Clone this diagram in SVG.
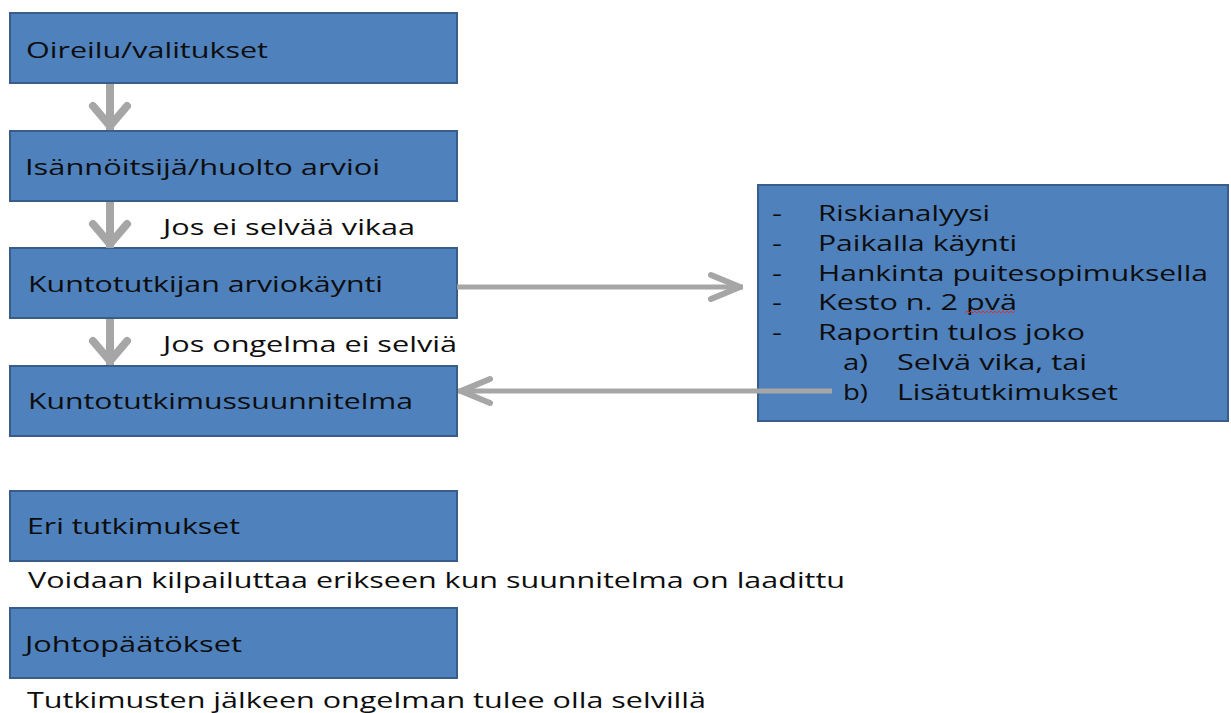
<svg xmlns="http://www.w3.org/2000/svg" width="1231" height="713" viewBox="0 0 1231 713">
<style>
.box{fill:#4f81bd;stroke:#385d8a;stroke-width:2}
.t{font-family:"Open Sans","Liberation Sans",sans-serif;font-size:21px;fill:#0d0d0d}
.c{stroke:#a6a6a6;fill:none}
.v{stroke-width:8}
.h{stroke-width:5}
</style>
<defs>
<marker id="vh" markerUnits="userSpaceOnUse" viewBox="-30 -24 36 48" markerWidth="36" markerHeight="48" refX="0" refY="0" orient="auto" overflow="visible">
<path d="M -24 -17 L -4 0 L -24 17" fill="none" stroke="#a6a6a6" stroke-width="8" stroke-linejoin="round" stroke-linecap="round"/>
</marker>
<marker id="hh" markerUnits="userSpaceOnUse" viewBox="-40 -16 44 32" markerWidth="44" markerHeight="32" refX="0" refY="0" orient="auto" overflow="visible">
<path d="M -32 -12 L -3 0 L -32 12" fill="none" stroke="#a6a6a6" stroke-width="6" stroke-linejoin="round" stroke-linecap="round"/>
</marker>
</defs>
<rect width="1231" height="713" fill="#ffffff"/>

<g id="n1"><rect class="box" x="10" y="13" width="447" height="70"/><text class="t" x="26" y="58" textLength="242" lengthAdjust="spacingAndGlyphs">Oireilu/valitukset</text></g>
<g id="n2"><rect class="box" x="10" y="131" width="447" height="70"/><text class="t" x="25" y="175" textLength="355" lengthAdjust="spacingAndGlyphs">Isännöitsijä/huolto arvioi</text></g>
<g id="n3"><rect class="box" x="10" y="248" width="447" height="70"/><text class="t" x="28" y="292" textLength="355" lengthAdjust="spacingAndGlyphs">Kuntotutkijan arviokäynti</text></g>
<g id="n4"><rect class="box" x="10" y="366" width="447" height="70"/><text class="t" x="28" y="409" textLength="385" lengthAdjust="spacingAndGlyphs">Kuntotutkimussuunnitelma</text></g>
<g id="n5"><rect class="box" x="10" y="491" width="447" height="70"/><text class="t" x="27" y="534" textLength="213" lengthAdjust="spacingAndGlyphs">Eri tutkimukset</text></g>
<g id="n6"><rect class="box" x="10" y="608" width="447" height="70"/><text class="t" x="25" y="652" textLength="217" lengthAdjust="spacingAndGlyphs">Johtopäätökset</text></g>

<g id="n7"><rect class="box" x="758" y="185" width="470" height="236"/>
<g class="t">
<text x="772" y="221" textLength="10" lengthAdjust="spacingAndGlyphs">-</text><text x="818" y="221" textLength="172" lengthAdjust="spacingAndGlyphs">Riskianalyysi</text>
<text x="772" y="251" textLength="10" lengthAdjust="spacingAndGlyphs">-</text><text x="818" y="251" textLength="199" lengthAdjust="spacingAndGlyphs">Paikalla  käynti</text>
<text x="772" y="281" textLength="10" lengthAdjust="spacingAndGlyphs">-</text><text x="818" y="281" textLength="390" lengthAdjust="spacingAndGlyphs">Hankinta puitesopimuksella</text>
<text x="772" y="310" textLength="10" lengthAdjust="spacingAndGlyphs">-</text><text x="818" y="310" textLength="199" lengthAdjust="spacingAndGlyphs">Kesto n. 2 pvä</text>
<text x="772" y="340" textLength="10" lengthAdjust="spacingAndGlyphs">-</text><text x="818" y="340" textLength="267" lengthAdjust="spacingAndGlyphs">Raportin tulos joko</text>
<text x="843" y="370" textLength="25" lengthAdjust="spacingAndGlyphs">a)</text><text x="897" y="370" textLength="190" lengthAdjust="spacingAndGlyphs">Selvä vika, tai</text>
<text x="843" y="400" textLength="25" lengthAdjust="spacingAndGlyphs">b)</text><text x="897" y="400" textLength="221" lengthAdjust="spacingAndGlyphs">Lisätutkimukset</text>
</g>
<path d="M965 313 l2 -2 l2 2 l2 -2 l2 2 l2 -2 l2 2 l2 -2 l2 2 l2 -2 l2 2 l2 -2 l2 2 l2 -2 l2 2 l2 -2 l2 2 l2 -2 l2 2 l2 -2 l2 2 l2 -2 l2 2 l2 -2 l2 2 l2 -2" fill="none" stroke="#e03030" stroke-width="1"/>
</g>

<g id="connectors">
<line class="c v" x1="110" y1="84" x2="110" y2="130" marker-end="url(#vh)"/>
<line class="c v" x1="110" y1="202" x2="110" y2="248" marker-end="url(#vh)"/>
<line class="c v" x1="110" y1="319" x2="110" y2="365" marker-end="url(#vh)"/>
<line class="c h" x1="457" y1="287" x2="743" y2="287" marker-end="url(#hh)"/>
<line class="c h" x1="832" y1="391" x2="458" y2="391" marker-end="url(#hh)"/>
</g>

<g id="labels" class="t">
<text x="163" y="235" textLength="252" lengthAdjust="spacingAndGlyphs">Jos ei selvää vikaa</text>
<text x="163" y="352" textLength="294" lengthAdjust="spacingAndGlyphs">Jos ongelma ei selviä</text>
<text x="28" y="588" textLength="817" lengthAdjust="spacingAndGlyphs">Voidaan kilpailuttaa erikseen kun suunnitelma on laadittu</text>
<text x="27" y="708" textLength="679" lengthAdjust="spacingAndGlyphs">Tutkimusten jälkeen ongelman tulee olla selvillä</text>
</g>
</svg>
